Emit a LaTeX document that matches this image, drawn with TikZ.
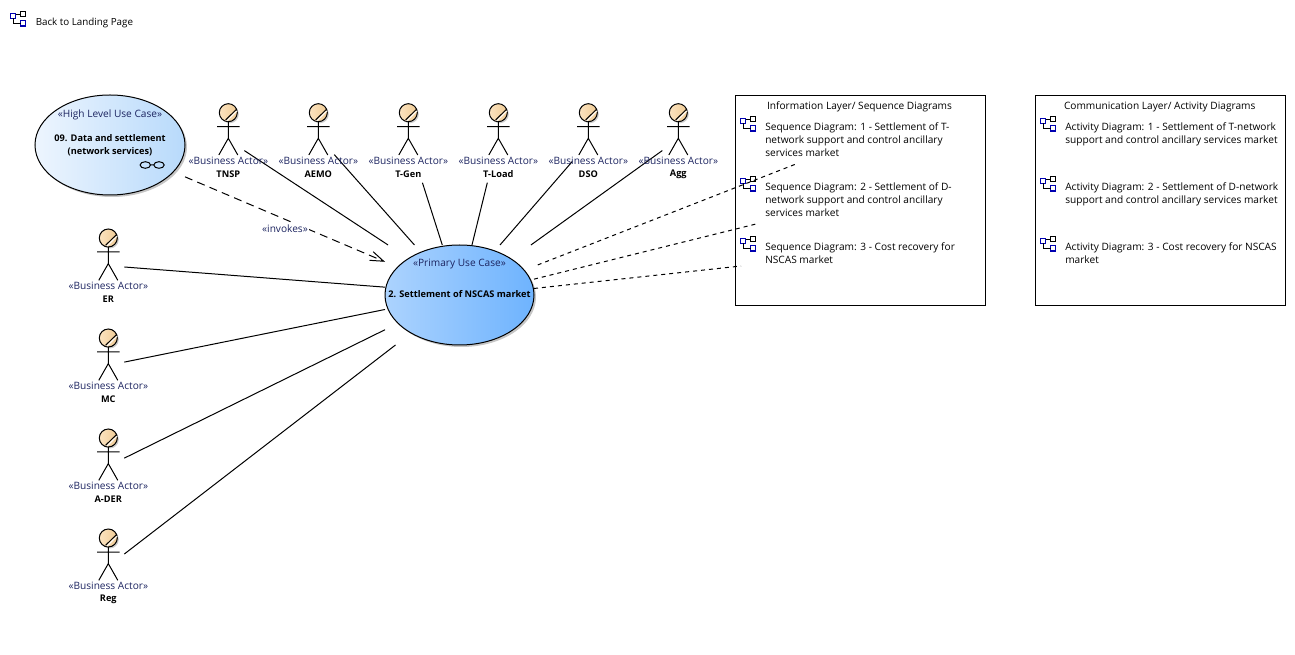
\documentclass[tikz,border=0pt]{standalone}
\usepackage{fontspec}
\setmainfont{Open Sans}
\usetikzlibrary{arrows.meta, shapes.geometric, shadows}

\definecolor{stereo}{HTML}{1C2460}
\definecolor{diagblue}{HTML}{0000B0}
\definecolor{headlight}{HTML}{FBE3C0}
\definecolor{headdark}{HTML}{F0CB94}
\definecolor{highleft}{HTML}{EDF5FE}
\definecolor{highright}{HTML}{B8DAFB}
\definecolor{primleft}{HTML}{ACD3FE}
\definecolor{primright}{HTML}{6EB3FE}

\tikzset{
  txt/.style={font=\fontsize{7.6}{9.75}\selectfont, inner sep=0, align=left},
  stereotxt/.style={font=\fontsize{7.6}{9.75}\selectfont, inner sep=0, text=stereo},
  boldtxt/.style={font=\fontsize{6.9}{9.75}\selectfont\bfseries, inner sep=0, align=center},
  frame/.style={draw, line width=0.75pt, minimum width=187.5pt, minimum height=157.5pt, inner sep=0, outer sep=0},
  oval/.style={ellipse, draw, line width=0.75pt, inner sep=0, outer sep=0,
    drop shadow={shadow xshift=1.5pt, shadow yshift=-1.5pt, fill=gray, opacity=0.45}},
  extent/.style={inner sep=0, outer sep=0, minimum width=#1},
  actorbox/.style={inner sep=0, outer sep=0, minimum width=24pt, minimum height=61.5pt},
  solidlink/.style={line width=0.75pt},
  invokelink/.style={line width=0.75pt, dash pattern=on 6pt off 4pt},
  tracelink/.style={line width=0.75pt, dash pattern=on 3pt off 3pt},
  pics/actorfig/.style={code={
    \fill [gray, opacity=0.4] (1.5,1.5) circle [radius=9];
    \draw [left color=headlight, right color=headdark, line width=0.75pt] (0,0) circle [radius=9];
    \draw [white, line width=0.75pt] (-1.5,8.2) -- (8.8,-1.8);
    \draw [line width=0.75pt] (-2.7,7.3) -- (8,-3.2);
    \draw [line width=0.75pt] (0,9) -- (0,25.6) (-11.3,14) -- (11.3,14)
      (-9.5,42.3) -- (0,25.6) -- (9.5,42.3);
  }},
  pics/diagicon/.style={code={
    \draw [diagblue, line width=1pt] (0,1.7) rectangle (5.3,7);
    \draw [line width=1pt] (10.2,0) rectangle (15.2,5);
    \draw [diagblue, line width=1pt] (10.2,9.2) rectangle (15.2,14.5);
    \draw [line width=0.75pt] (5.3,3.4) -- (10.2,3.4) (2.7,7) -- (2.7,11.8) -- (10.2,11.8);
  }}
}

\begin{document}
\begin{tikzpicture}[x=0.75pt, y=-0.75pt]
  \useasboundingbox (0,0) rectangle (1295,655);

  % back link
  \pic at (10.5,11.5) {diagicon};
  \node (landing) [txt, anchor=west, font=\fontsize{7.35}{9.75}\selectfont] at (35.5,22.5) {Back to Landing Page};

  % right hand frames
  \node (seqframe) [frame] at (860.5,200.5) {};
  \node (actframe) [frame] at (1160.5,200.5) {};
  \node (seqtitle) [txt] at (859.5,107) {Information Layer/ Sequence Diagrams};
  \node (acttitle) [txt] at (1159.7,107) {Communication Layer/ Activity Diagrams};

  % use cases
  \node (highoval) [oval, left color=highleft, right color=highright,
    minimum width=112.5pt, minimum height=75pt] at (110,145) {};
  \node (high) [extent=112.5pt, minimum height=75pt] at (110,145) {};
  \node (highstereo) [stereotxt] at (110,114.5) {«High Level Use Case»};
  \node (highname) [boldtxt] at (110,145.5) {09. Data and settlement\\(network services)};
  \draw [line width=0.75pt] (145.3,165) ellipse [x radius=5.2, y radius=3.3]
    (150.5,165) -- (153.8,165)
    (159,165) ellipse [x radius=5.2, y radius=3.3];

  \node (primaryoval) [oval, left color=primleft, right color=primright,
    minimum width=111.75pt, minimum height=75pt] at (459.5,295) {};
  \node (primary) [extent=111.75pt, minimum height=75pt] at (459.5,295) {};
  \node (primarystereo) [stereotxt] at (459.5,264.5) {«Primary Use Case»};
  \node (primaryname) [boldtxt] at (459.5,294.5) {2. Settlement of NSCAS market};

  % actors
  \foreach \nm/\lbl/\hx/\hy/\oa/\ia in {
    tnsp/TNSP/228.3/112.7/-29.4/145.8,
    aemo/AEMO/318.3/112.7/-39.1/132.9,
    tgen/T-Gen/408.3/112.7/-71.1/109.3,
    tload/T-Load/498.3/112.7/255/76,
    dso/DSO/588.3/112.7/231.3/51,
    agg/Agg/678.3/112.7/209.4/35.7,
    er/ER/108.3/238/0/174.6,
    mc/MC/108.3/338/17.4/191.4,
    ader/A-DER/108.3/438/29.4/205.8,
    reg/Reg/108.3/538/39.1/218.4}{
    \pic at (\hx,\hy) {actorfig};
    \node (\nm) [actorbox] at (\hx,\hy+29) {};
    \draw [solidlink] (\nm.\oa) -- (primary.\ia);
    \node (\nm stereo) [stereotxt] at (\hx,\hy+47.8) {«Business Actor»};
    \node (\nm name) [boldtxt] at (\hx,\hy+61.3) {\lbl};
  }

  % invokes
  \draw [invokelink, -{Straight Barb[length=10pt, width=7pt]}] (high.-23.1) -- (primary.156.1)
    node (invokes) [pos=0.5, yshift=-7pt, fill=white, inner sep=1pt, text=stereo,
      font=\fontsize{7.6}{9.75}\selectfont] {«invokes»};

  % diagram links
  \coordinate (seqendA) at (796,164);
  \coordinate (seqendB) at (756,224);
  \coordinate (seqendC) at (741,266);
  \draw [tracelink, shorten <=3pt] (primary.21.9) -- (seqendA);
  \draw [tracelink] (primary.12.9) -- (seqendB);
  \draw [tracelink] (primary.5.4) -- (seqendC);

  % diagram entries
  \foreach \yy in {116.5,176.5,236.5}{
    \pic at (740.5,\yy) {diagicon};
    \pic at (1040.5,\yy) {diagicon};
  }
  \node (seqA) [txt, anchor=north west] at (765,122) {Sequence Diagram: 1 - Settlement of T-\\network support and control ancillary\\services market};
  \node (seqB) [txt, anchor=north west] at (765,182) {Sequence Diagram: 2 - Settlement of D-\\network support and control ancillary\\services market};
  \node (seqC) [txt, anchor=north west] at (765,242) {Sequence Diagram: 3 - Cost recovery for\\NSCAS market};
  \node (actA) [txt, anchor=north west] at (1065,122) {Activity Diagram: 1 - Settlement of T-network\\support and control ancillary services market};
  \node (actB) [txt, anchor=north west] at (1065,182) {Activity Diagram: 2 - Settlement of D-network\\support and control ancillary services market};
  \node (actC) [txt, anchor=north west] at (1065,242) {Activity Diagram: 3 - Cost recovery for NSCAS\\market};
\end{tikzpicture}
\end{document}
